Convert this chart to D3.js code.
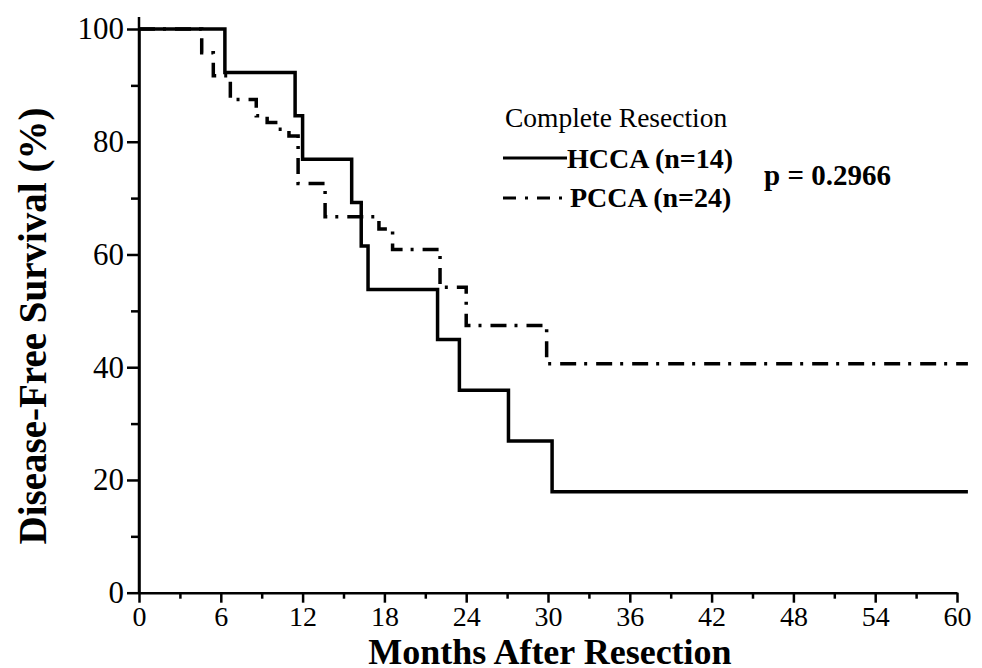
<!DOCTYPE html>
<html>
<head>
<meta charset="utf-8">
<script src="https://cdn.jsdelivr.net/npm/d3@7"></script>
<style>
  body { margin: 0; background: #fff; }
  svg { display: block; }
  text { font-family: "Liberation Serif", "Times New Roman", serif; fill: #000; }
</style>
</head>
<body>
<div id="chart"></div>
<script>
// Kaplan-Meier curves, values (months, % disease-free)
var hccaTimes = [0, 6.3, 11.45, 12.0, 15.6, 16.3, 16.8, 21.9, 23.5, 27.1, 30.3, 60.8];
var hccaSurv = [100, 92.3, 84.6, 76.9, 69.2, 61.5, 53.8, 44.9, 35.9, 26.9, 17.9, 17.9];

var pccaTimes = [0, 4.6, 5.45, 6.7, 8.6, 9.4, 10.2, 11.0, 11.67, 13.65, 17.6, 18.6, 22.08, 24.0, 29.9, 60.8];
var pccaSurv = [100, 95.8, 91.7, 87.5, 84.6, 83.4, 82.2, 81.0, 72.6, 66.7, 64.5, 60.9, 54.2, 47.4, 40.6, 40.6];

var xMajor = [0, 6, 12, 18, 24, 30, 36, 42, 48, 54, 60];
var xMinor = [3, 9, 15, 21, 27, 33, 39, 45, 51, 57];
var yMajor = [0, 20, 40, 60, 80, 100];
var yMinor = [10, 30, 50, 70, 90];

var legendTitle = "Complete Resection";
var seriesNames = ["HCCA (n=14)", "PCCA (n=24)"];
var pText = "p = 0.2966";

var width = 982, height = 668;

var svg = d3
  .select("#chart")
  .append("svg")
  .attr("width", width)
  .attr("height", height);

var x = d3.scaleLinear().domain([0, 60]).range([139, 957]);
var y = d3.scaleLinear().domain([0, 100]).range([592.7, 29]);

// minor ticks first, no labels
svg
  .append("g")
  .attr("transform", "translate(0," + y(0) + ")")
  .call(d3.axisBottom(x).tickValues(xMinor).tickSize(6).tickSizeOuter(0).tickFormat(""))
  .call((g) => g.select(".domain").remove());

svg
  .append("g")
  .attr("transform", "translate(" + x(0) + ",0)")
  .call(d3.axisLeft(y).tickValues(yMinor).tickSize(8).tickSizeOuter(0).tickFormat(""))
  .call((g) => g.select(".domain").remove());

var xAxis = svg
  .append("g")
  .attr("class", "x axis")
  .attr("transform", "translate(0," + y(0) + ")")
  .call(d3.axisBottom(x).tickValues(xMajor).tickSize(10).tickPadding(3).tickSizeOuter(0));

var yAxis = svg
  .append("g")
  .attr("class", "y axis")
  .attr("transform", "translate(" + x(0) + ",0)")
  .call(d3.axisLeft(y).tickValues(yMajor).tickSize(12).tickPadding(3).tickSizeOuter(0));

svg.selectAll(".tick line").attr("stroke", "#000").attr("stroke-width", 2.5);
svg.selectAll(".domain").attr("stroke", "#000").attr("stroke-width", 2.5);
xAxis.selectAll(".tick text").style("font-size", "28px").attr("fill", "#000");
yAxis.selectAll(".tick text").style("font-size", "31px").attr("fill", "#000");

// y axis runs a little above 100
svg
  .append("line")
  .attr("x1", x(0))
  .attr("x2", x(0))
  .attr("y1", y(100) - 12)
  .attr("y2", y(0))
  .attr("stroke", "#000")
  .attr("stroke-width", 2.5);

// axis titles
svg
  .append("text")
  .attr("x", (x(0) + x(60)) / 2 + 2)
  .attr("y", 664)
  .attr("text-anchor", "middle")
  .style("font-size", "36px")
  .style("font-weight", "bold")
  .text("Months After Resection");

svg
  .append("text")
  .attr("transform", "translate(46," + 326 + ")rotate(-90)")
  .attr("text-anchor", "middle")
  .style("font-size", "39px")
  .style("font-weight", "bold")
  .text("Disease-Free Survival (%)");

// curves
var line = d3
  .line()
  .x((d) => x(d[0]))
  .y((d) => y(d[1]))
  .curve(d3.curveStepAfter);

var hcca = hccaTimes.map((t, i) => [t, hccaSurv[i]]);
var pcca = pccaTimes.map((t, i) => [t, pccaSurv[i]]);

svg
  .append("path")
  .datum(pcca)
  .attr("d", line)
  .attr("fill", "none")
  .attr("stroke", "#000")
  .attr("stroke-width", 3.5)
  .attr("stroke-dasharray", "16,8,3,9");

svg
  .append("path")
  .datum(hcca)
  .attr("d", line)
  .attr("fill", "none")
  .attr("stroke", "#000")
  .attr("stroke-width", 3.5);

// legend
svg
  .append("text")
  .attr("x", 505)
  .attr("y", 127)
  .style("font-size", "27.5px")
  .text(legendTitle);

svg
  .append("line")
  .attr("x1", 503)
  .attr("x2", 567)
  .attr("y1", 158)
  .attr("y2", 158)
  .attr("stroke", "#000")
  .attr("stroke-width", 3);

svg
  .append("line")
  .attr("x1", 503)
  .attr("x2", 567)
  .attr("y1", 198)
  .attr("y2", 198)
  .attr("stroke", "#000")
  .attr("stroke-width", 3)
  .attr("stroke-dasharray", "13,9,3,9");

svg
  .selectAll(".legend")
  .data(seriesNames)
  .enter()
  .append("text")
  .attr("class", "legend")
  .attr("x", (d, i) => (i == 0 ? 567 : 570))
  .attr("y", (d, i) => 168 + i * 39)
  .style("font-size", "28px")
  .style("font-weight", "bold")
  .text((d) => d);

svg
  .append("text")
  .attr("x", 764)
  .attr("y", 185)
  .style("font-size", "29px")
  .style("font-weight", "bold")
  .text(pText);
</script>
</body>
</html>
